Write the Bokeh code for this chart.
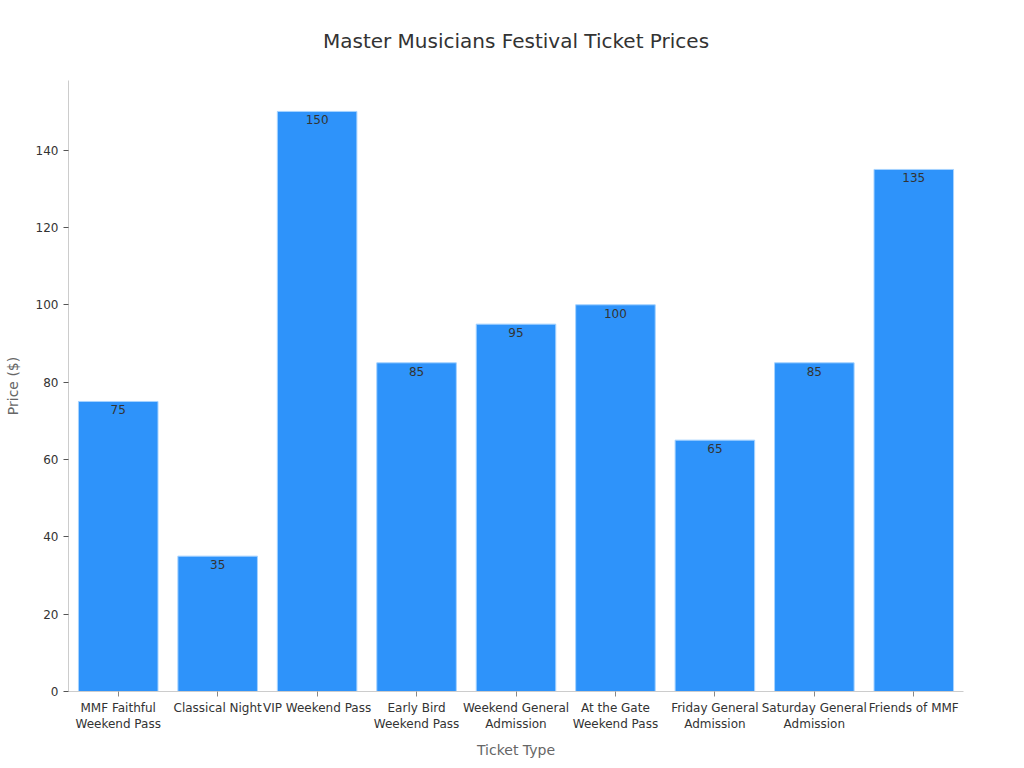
from bokeh.plotting import figure
from bokeh.models import ColumnDataSource, Range1d, FactorRange, LabelSet, Title
from bokeh.core.properties import value
from bokeh.embed import file_html
from bokeh.resources import INLINE

title_text = "Master Musicians Festival Ticket Prices"
tick_labels = ["MMF Faithful\nWeekend Pass", "Classical Night", "VIP Weekend Pass",
               "Early Bird\nWeekend Pass", "Weekend General\nAdmission", "At the Gate\nWeekend Pass",
               "Friday General\nAdmission", "Saturday General\nAdmission", "Friends of MMF"]
prices = [75, 35, 150, 85, 95, 100, 65, 85, 135]

FONT = "DejaVu Sans"

src = ColumnDataSource(data=dict(cat=tick_labels, price=prices, lbl=[str(v) for v in prices]))

p = figure(x_range=FactorRange(*tick_labels, range_padding=0), y_range=Range1d(0, 158),
           width=1008, height=762, output_backend="svg", toolbar_location=None,
           min_border_left=68, min_border_right=45, min_border_top=80, min_border_bottom=71)

p.vbar(x="cat", top="price", width=0.8, source=src,
       fill_color="#2E93FA", line_color="#A6D3FF", line_width=1)

labels = LabelSet(x="cat", y="price", text="lbl", source=src, text_align="center",
                  text_baseline="top", y_offset=-4, text_font=value(FONT),
                  text_font_size="12px", text_color="#333333")
p.add_layout(labels)

t = Title(text=title_text, align="center", vertical_align="top",
          text_font=FONT, text_font_size="20px", text_font_style="normal",
          text_color="#333333", offset=-4, standoff=52)
p.add_layout(t, "above")

p.xgrid.visible = False
p.ygrid.visible = False
p.outline_line_color = None

for ax in (p.xaxis, p.yaxis):
    ax.axis_line_color = "#CCCCCC"
    ax.major_tick_line_color = "#555555"
    ax.minor_tick_line_color = None
    ax.major_tick_in = 0
    ax.major_tick_out = 5
    ax.major_label_text_font = FONT
    ax.major_label_text_font_size = "12px"
    ax.major_label_text_color = "#333333"
    ax.axis_label_text_font = FONT
    ax.axis_label_text_font_size = "14px"
    ax.axis_label_text_font_style = "normal"
    ax.axis_label_text_color = "#666666"

p.xaxis.major_tick_line_color = "#888888"
p.xaxis.axis_label = "Ticket Type"
p.yaxis.axis_label = "Price ($)"
p.yaxis.ticker = [0, 20, 40, 60, 80, 100, 120, 140]
p.xaxis.major_label_standoff = 4
p.xaxis.axis_label_standoff = 8
p.yaxis.axis_label_standoff = 12

open("out.html", "w").write(file_html(p, INLINE))
